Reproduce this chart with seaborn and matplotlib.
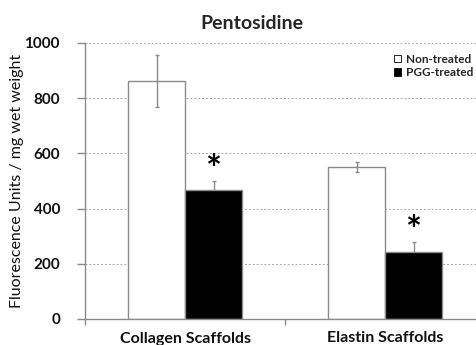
import numpy as np
import pandas as pd
import seaborn as sns
import matplotlib.pyplot as plt

# data
scaffolds = ["Collagen Scaffolds", "Elastin Scaffolds"]
treatments = ["Non-treated", "PGG-treated"]
non_treated = [862, 552]
non_treated_err = [95, 18]
pgg_treated = [466, 244]
pgg_treated_err = [35, 36]
significant = [True, True]

df = pd.DataFrame({
    "scaffold": scaffolds * 2,
    "treatment": [treatments[0]] * 2 + [treatments[1]] * 2,
    "value": non_treated + pgg_treated,
})

sns.set_theme(style="white")
plt.rcParams["font.family"] = ["Lato", "DejaVu Sans"]

fig = plt.figure(figsize=(4.76, 3.45), dpi=100)
ax = fig.add_axes([85 / 476, 1 - 319 / 345, 1 - 85 / 476, 276 / 345])

sns.barplot(data=df, x="scaffold", y="value", hue="treatment",
            palette=["white", "black"], edgecolor="#8a8a8a", linewidth=1,
            width=0.57, errorbar=None, ax=ax, zorder=2)

# error bars drawn at the centres of the seaborn bars
bars = ax.patches[:4]
xs = [b.get_x() + b.get_width() / 2 for b in bars]
ax.errorbar(xs[:2], non_treated, yerr=non_treated_err, fmt="none",
            ecolor="#8a8a8a", elinewidth=1, capsize=1.5, zorder=3)
ax.errorbar(xs[2:], pgg_treated, yerr=pgg_treated_err, fmt="none",
            ecolor="#8a8a8a", elinewidth=1, capsize=1.5, zorder=1)

for x, v, e, s in zip(xs[2:], pgg_treated, pgg_treated_err, significant):
    if s:
        ax.text(x, v + e + 35, "*", ha="center", va="center",
                fontsize=27, fontweight="bold", color="black")

ax.set_ylim(0, 1000)
ax.set_xlim(-0.5, 1.455)
ax.set_yticks([0, 200, 400, 600, 800, 1000])
ax.yaxis.grid(True, linestyle=(0, (2, 2)), color="#a8a8a8", linewidth=0.7)
ax.set_axisbelow(True)

ax.set_xticks([-0.5, 0.5], minor=True)
ax.tick_params(axis="x", which="major", length=0, pad=9)
ax.tick_params(axis="x", which="minor", length=4, color="#8a8a8a", width=1,
               direction="out", bottom=True)
ax.tick_params(axis="y", length=6, color="#8a8a8a", width=1, direction="out",
               left=True, pad=12)
for lbl in ax.get_xticklabels():
    lbl.set_fontweight("bold")
    lbl.set_fontsize(11.5)
    lbl.set_color("#111111")
for lbl in ax.get_yticklabels():
    lbl.set_fontweight("bold")
    lbl.set_fontsize(11)
    lbl.set_color("#111111")

for side in ["top", "right"]:
    ax.spines[side].set_visible(False)
for side in ["left", "bottom"]:
    ax.spines[side].set_color("#8a8a8a")
    ax.spines[side].set_linewidth(1)

ax.set_xlabel("")
ax.set_ylabel("Fluorescence Units / mg wet weight", fontsize=11.5,
              color="#111111", labelpad=0)
ax.set_title("Pentosidine", fontsize=14, fontweight="bold", pad=10,
             x=(252 - 85) / 391)

handles, labels = ax.get_legend_handles_labels()
leg = ax.legend(handles, labels, loc="upper right", frameon=False,
                bbox_to_anchor=(1.02, 1.0), handlelength=0.6, handleheight=0.6,
                handletextpad=0.4, labelspacing=0.2,
                prop={"size": 8.5, "weight": "bold"})
for h in leg.legend_handles:
    h.set_edgecolor("black")
    h.set_linewidth(0.6)

fig.savefig("out.png", dpi=100)
